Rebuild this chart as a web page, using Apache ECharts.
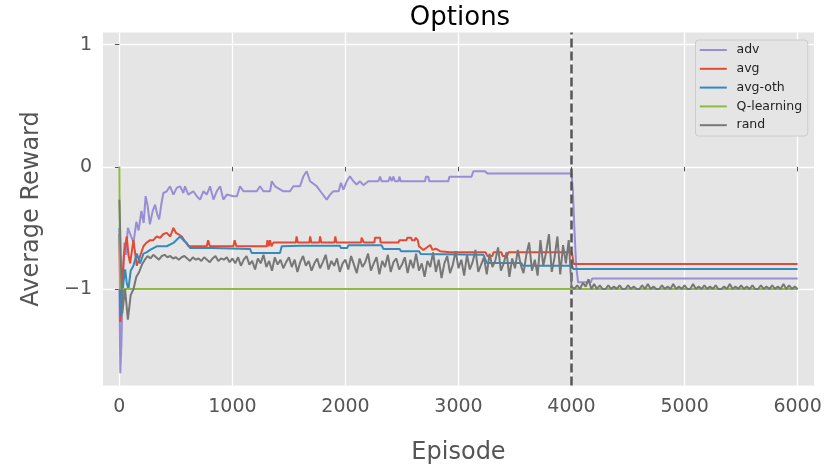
<!DOCTYPE html>
<html>
<head>
<meta charset="utf-8">
<title>Options</title>
<script src="https://cdn.jsdelivr.net/npm/echarts@6/dist/echarts.min.js"></script>
<style>
  html, body { margin: 0; padding: 0; background: #ffffff; }
  #chart { width: 827px; height: 471px; }
</style>
</head>
<body>
<div id="chart"></div>
<script>
// Series names, in drawing order
const seriesNames = ['adv', 'avg', 'avg-oth', 'Q-learning', 'rand'];

// Tick positions
const xTicks = [0, 1000, 2000, 3000, 4000, 5000, 6000];
const yTicks = [-1, 0, 1];

// Episode at which the environment switches
const switchEpisode = 4000;

// [episode, average reward]
const advPoints = [
  [0, -1.0], [8, -1.69], [18, -1.45], [30, -0.95], [45, -0.62], [58, -0.72], [75, -0.5],
  [100, -0.56], [125, -0.62], [150, -0.45], [170, -0.52], [195, -0.36], [215, -0.46],
  [232, -0.24], [250, -0.32], [270, -0.47], [295, -0.36], [316, -0.31], [335, -0.39],
  [352, -0.43], [372, -0.3], [389, -0.214], [419, -0.2], [448, -0.159], [478, -0.227],
  [507, -0.172], [537, -0.159], [566, -0.214], [580, -0.159], [610, -0.227], [654, -0.2],
  [684, -0.24], [714, -0.268], [743, -0.2], [773, -0.227], [802, -0.159], [832, -0.268],
  [861, -0.2], [891, -0.159], [920, -0.268], [950, -0.227], [1008, -0.24], [1040, -0.24],
  [1067, -0.159], [1097, -0.2], [1215, -0.2], [1244, -0.159], [1274, -0.2], [1333, -0.2],
  [1348, -0.118], [1377, -0.159], [1451, -0.2], [1510, -0.2], [1539, -0.159], [1598, -0.159],
  [1628, -0.077], [1657, -0.036], [1687, -0.118], [1746, -0.159], [1790, -0.214],
  [1834, -0.268], [1864, -0.227], [1893, -0.2], [1940, -0.2], [1960, -0.13], [1982, -0.186],
  [2011, -0.118], [2040, -0.077], [2070, -0.118], [2099, -0.145], [2129, -0.118],
  [2158, -0.15], [2202, -0.118], [2291, -0.118], [2306, -0.08], [2320, -0.118],
  [2380, -0.118], [2394, -0.08], [2409, -0.118], [2424, -0.08], [2438, -0.118],
  [2468, -0.118], [2477, -0.08], [2489, -0.118], [2704, -0.118], [2712, -0.08],
  [2733, -0.08], [2741, -0.118], [2910, -0.118], [2919, -0.08], [3116, -0.08],
  [3131, -0.036], [3234, -0.036], [3255, -0.055], [4000, -0.055], [4012, -0.2],
  [4025, -0.5], [4040, -0.8], [4058, -0.945], [4170, -0.945], [4182, -0.915], [6000, -0.915]
];

const avgPoints = [
  [0, -0.55], [8, -1.27], [20, -1.05], [40, -0.72], [65, -0.57], [80, -0.72], [95, -0.79],
  [124, -0.6], [154, -0.81], [183, -0.73], [213, -0.65], [240, -0.62], [272, -0.6],
  [300, -0.6], [330, -0.57], [360, -0.58], [390, -0.55], [419, -0.54], [450, -0.57],
  [478, -0.5], [500, -0.54], [520, -0.55], [552, -0.57], [580, -0.61], [611, -0.65],
  [773, -0.65], [785, -0.6], [800, -0.65], [1008, -0.65], [1020, -0.6], [1035, -0.65],
  [1303, -0.65], [1310, -0.6], [1320, -0.65], [1333, -0.6], [1345, -0.65], [1362, -0.62],
  [1560, -0.62], [1568, -0.57], [1578, -0.62], [1680, -0.62], [1688, -0.57], [1698, -0.62],
  [1768, -0.62], [1776, -0.57], [1786, -0.62], [1902, -0.62], [1910, -0.57], [1920, -0.62],
  [2138, -0.62], [2143, -0.58], [2158, -0.58], [2163, -0.62], [2256, -0.62], [2261, -0.58],
  [2306, -0.58], [2311, -0.62], [2468, -0.62], [2478, -0.6], [2540, -0.6], [2548, -0.58],
  [2580, -0.58], [2588, -0.6], [2614, -0.6], [2620, -0.58], [2632, -0.58], [2640, -0.6],
  [2650, -0.65], [2690, -0.68], [2720, -0.66], [2750, -0.64], [2770, -0.68], [2800, -0.67],
  [2837, -0.69], [2925, -0.7], [3240, -0.7], [3255, -0.73], [3300, -0.73], [3310, -0.7],
  [3380, -0.7], [3390, -0.73], [3430, -0.73], [3440, -0.7], [4003, -0.7], [4018, -0.795],
  [6000, -0.795]
];

const avgOthPoints = [
  [0, -0.5], [16, -1.22], [35, -0.95], [51, -0.84], [65, -0.95], [80, -1.0], [100, -0.85],
  [124, -0.81], [154, -0.71], [183, -0.79], [213, -0.71], [240, -0.7], [272, -0.68],
  [330, -0.65], [419, -0.65], [478, -0.623], [537, -0.57], [566, -0.6], [596, -0.623],
  [625, -0.664], [780, -0.664], [790, -0.68], [815, -0.664], [1156, -0.672], [1170, -0.705],
  [1421, -0.705], [1436, -0.65], [1598, -0.645], [1950, -0.645], [1960, -0.664],
  [2015, -0.664], [2026, -0.642], [2320, -0.642], [2335, -0.672], [2480, -0.672],
  [2490, -0.69], [2650, -0.69], [2665, -0.713], [3220, -0.719], [3250, -0.787],
  [3555, -0.787], [3570, -0.809], [4003, -0.809], [4015, -0.836], [6000, -0.836]
];

const qLearningPoints = [
  [0, 0.0], [6, -1.0], [6000, -1.0]
];

// rand is recorded every randStep episodes, starting at episode 0
const randStep = 25;
const randValues = [
  -0.27, -1.2, -1.0, -1.25, -1.05, -1.0, -0.9, -0.86, -0.8, -0.76,
  -0.73, -0.75, -0.72, -0.74, -0.76, -0.73, -0.72, -0.74, -0.73, -0.75,
  -0.74, -0.76, -0.74, -0.73, -0.75, -0.77, -0.74, -0.76, -0.75, -0.77,
  -0.74, -0.76, -0.78, -0.75, -0.73, -0.77, -0.75, -0.76, -0.74, -0.78,
  -0.75, -0.79, -0.74, -0.81, -0.76, -0.73, -0.8, -0.77, -0.84, -0.75,
  -0.79, -0.72, -0.82, -0.77, -0.85, -0.74, -0.8, -0.76, -0.83, -0.78,
  -0.74, -0.82, -0.76, -0.86, -0.78, -0.73, -0.81, -0.77, -0.85, -0.79,
  -0.75, -0.83, -0.78, -0.72, -0.84, -0.77, -0.81, -0.75, -0.86, -0.79,
  -0.76, -0.84, -0.73, -0.8, -0.87, -0.75, -0.82, -0.78, -0.71, -0.85,
  -0.79, -0.74, -0.88, -0.77, -0.82, -0.72, -0.86, -0.78, -0.75, -0.84,
  -0.8, -0.74, -0.87, -0.76, -0.83, -0.71, -0.85, -0.79, -0.9, -0.77,
  -0.82, -0.7, -0.86, -0.76, -0.91, -0.79, -0.73, -0.87, -0.8, -0.69,
  -0.83, -0.76, -0.89, -0.72, -0.84, -0.78, -0.68, -0.86, -0.8, -0.74,
  -0.88, -0.71, -0.82, -0.77, -0.66, -0.85, -0.79, -0.7, -0.9, -0.75,
  -0.83, -0.68, -0.8, -0.87, -0.72, -0.62, -0.85, -0.76, -0.89, -0.6,
  -0.81, -0.7, -0.55, -0.86, -0.74, -0.57, -0.88, -0.64, -0.79, -0.6,
  -0.98, -1.0, -0.97, -1.0, -0.95, -0.98, -0.92, -1.0, -0.96, -1.0,
  -0.97, -1.0, -1.0, -0.97, -1.0, -0.98, -1.0, -0.97, -1.0, -1.0,
  -0.97, -1.0, -0.98, -1.0, -1.0, -0.97, -1.0, -0.96, -1.0, -0.98,
  -1.0, -1.0, -0.97, -1.0, -0.98, -1.0, -0.96, -1.0, -0.98, -1.0,
  -0.97, -1.0, -1.0, -0.96, -1.0, -0.98, -1.0, -0.97, -1.0, -0.98,
  -1.0, -0.97, -1.0, -1.0, -0.98, -1.0, -0.96, -1.0, -0.98, -1.0,
  -0.97, -1.0, -0.98, -1.0, -0.97, -1.0, -1.0, -0.97, -1.0, -0.98,
  -1.0, -0.97, -1.0, -0.98, -1.0, -0.96, -1.0, -0.97, -1.0, -0.98,
  -1.0
];

const palette = ['#988ED5', '#E24A33', '#348ABD', '#8EBA42', '#777777'];
const FONT = '"DejaVu Sans", "Liberation Sans", sans-serif';

const randPoints = randValues.map((v, i) => [i * randStep, v]);
const seriesPoints = [advPoints, avgPoints, avgOthPoints, qLearningPoints, randPoints];

// Tick label text: plain integers, true minus sign for negatives
const tickText = (v) => (v < 0 ? '\u2212' + Math.abs(v) : String(v));

const series = seriesNames.map((name, i) => ({
  name: name,
  type: 'line',
  data: seriesPoints[i],
  showSymbol: false,
  symbol: 'none',
  color: palette[i],
  lineStyle: { width: 2, color: palette[i] },
  z: 2 + i,
  silent: true
}));

// Dashed marker at the switch episode
series.push({
  name: 'switch',
  type: 'line',
  data: [],
  z: 10,
  markLine: {
    silent: true,
    symbol: ['none', 'none'],
    label: { show: false },
    lineStyle: { color: '#555555', width: 2.5, type: [9, 4] },
    data: [{ xAxis: switchEpisode }]
  }
});

const chart = echarts.init(document.getElementById('chart'), null, { renderer: 'canvas' });

chart.setOption({
  animation: false,
  backgroundColor: '#ffffff',
  graphic: [{
    type: 'text',
    x: 460,
    y: 5,
    style: {
      text: 'Options',
      fontFamily: FONT,
      fontSize: 26,
      fill: '#000000',
      align: 'center',
      verticalAlign: 'top'
    }
  }],
  grid: {
    left: 103,
    right: 13,
    top: 32.5,
    bottom: 85.5,
    show: true,
    backgroundColor: '#E5E5E5',
    borderWidth: 0,
    containLabel: false
  },
  legend: {
    data: seriesNames,
    orient: 'vertical',
    left: 695.5,
    top: 40,
    padding: [3, 5.6, 3.8, 4.3],
    itemGap: 4.8,
    itemWidth: 27,
    itemHeight: 2,
    icon: 'rect',
    backgroundColor: '#E5E5E5',
    borderColor: '#CCCCCC',
    borderWidth: 1,
    borderRadius: 3,
    textStyle: {
      fontFamily: FONT,
      fontSize: 12.5,
      lineHeight: 14,
      color: '#222222',
      padding: [0, 0, 0, 4.7]
    }
  },
  xAxis: {
    type: 'value',
    min: -145,
    max: 6145,
    name: 'Episode',
    nameLocation: 'middle',
    nameGap: 55,
    nameTextStyle: { fontFamily: FONT, fontSize: 24, color: '#555555' },
    axisLine: { show: false },
    axisTick: { show: true, length: 4.5, customValues: xTicks, lineStyle: { color: '#555555', width: 1 } },
    axisLabel: { customValues: xTicks, fontFamily: FONT, fontSize: 19, color: '#555555', margin: 12, formatter: tickText },
    splitLine: { show: true, lineStyle: { color: '#FFFFFF', width: 1.3 } }
  },
  yAxis: {
    type: 'value',
    min: -1.79,
    max: 1.1,
    name: 'Average Reward',
    nameLocation: 'middle',
    nameGap: 59,
    nameTextStyle: { fontFamily: FONT, fontSize: 24, color: '#555555' },
    axisLine: { show: false },
    axisTick: { show: true, length: 4.5, customValues: yTicks, lineStyle: { color: '#555555', width: 1 } },
    axisLabel: { customValues: yTicks, fontFamily: FONT, fontSize: 19, color: '#555555', margin: 11, formatter: tickText },
    splitLine: { show: true, lineStyle: { color: '#FFFFFF', width: 1.3 } }
  },
  series: series
});
</script>
</body>
</html>
